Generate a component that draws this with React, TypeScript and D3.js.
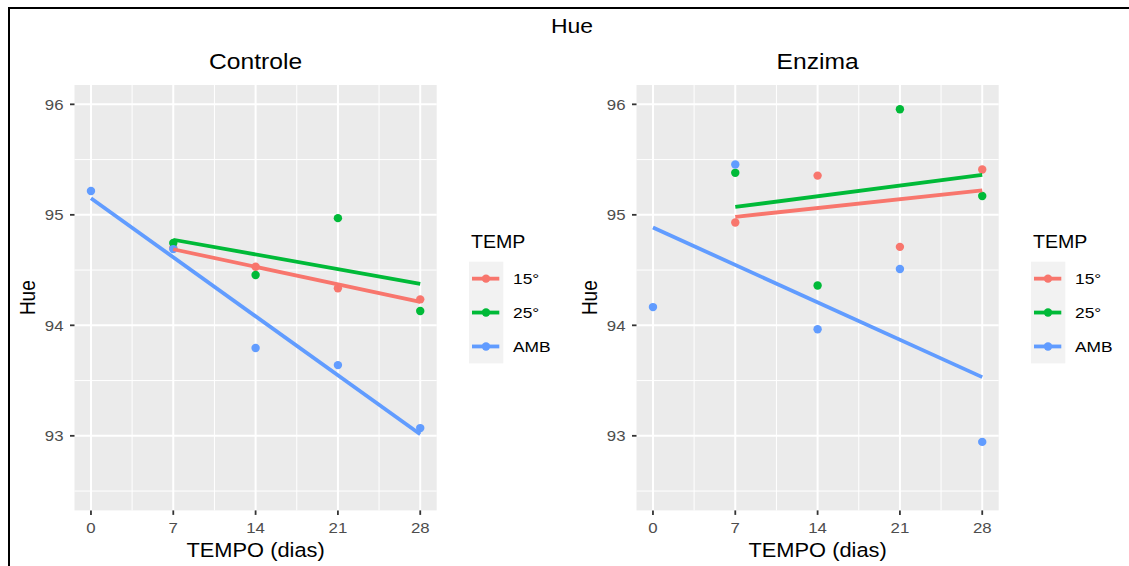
import React from "react";
import * as d3 from "d3";

// ---- data ----
const days = [0, 7, 14, 21, 28];
const groups = ["15°", "25°", "AMB"];
const groupColors = ["#F8766D", "#00BA38", "#619CFF"];
const yTicks = [93, 94, 95, 96];
const yMinor = [92.5, 93.5, 94.5, 95.5];
const xTicks = [0, 7, 14, 21, 28];
const xMinor = [3.5, 10.5, 17.5, 24.5];

const ctrl15 = [null, 94.7, 94.53, 94.335, 94.235];
const ctrl25 = [null, 94.745, 94.455, 94.97, 94.13];
const ctrlAMB = [95.215, 94.69, 93.795, 93.64, 93.07];

const enz15 = [null, 94.93, 95.355, 94.71, 95.41];
const enz25 = [null, 95.38, 94.36, 95.955, 95.17];
const enzAMB = [94.165, 95.455, 93.965, 94.51, 92.945];

const panels = [
  { title: "Controle", series: [ctrl15, ctrl25, ctrlAMB] },
  { title: "Enzima", series: [enz15, enz25, enzAMB] },
];

const FONT = "'Liberation Sans', Arial, Helvetica, sans-serif";
const SX = 1.12;

function T({ x, y, size, anchor = "start", fill = "#000", rotate = false, children }: any) {
  const tr = rotate
    ? `translate(${x},${y}) scale(${SX},1) rotate(-90)`
    : `translate(${x},${y}) scale(${SX},1)`;
  return (
    <text transform={tr} fontSize={size} fontFamily={FONT} textAnchor={anchor} fill={fill}>
      {children}
    </text>
  );
}

function linreg(xs: number[], ys: number[]) {
  const mx = d3.mean(xs)!;
  const my = d3.mean(ys)!;
  let num = 0;
  let den = 0;
  xs.forEach((x, i) => {
    num += (x - mx) * (ys[i] - my);
    den += (x - mx) * (x - mx);
  });
  const b = num / den;
  const a = my - b * mx;
  return (x: number) => a + b * x;
}

const yScale = d3.scaleLinear().domain([92.325, 96.175]).range([510.4, 85]);

function Panel({ left, title, series }: any) {
  const width = 362.2;
  const x = d3.scaleLinear().domain([-1.4, 29.4]).range([left, left + width]);
  const [yTop, yBot] = [yScale.range()[1], yScale.range()[0]];
  const line = d3
    .line<[number, number]>()
    .x((d) => x(d[0]))
    .y((d) => yScale(d[1]));
  const legX = left + 394.5;
  const keyTop = 261.7;
  const keyH = 33.9;
  return (
    <g>
      <rect x={left} y={yTop} width={width} height={yBot - yTop} fill="#EBEBEB" />
      {yMinor.map((v) => (
        <line key={"ym" + v} x1={left} x2={left + width} y1={yScale(v)} y2={yScale(v)} stroke="#fff" strokeWidth={1} />
      ))}
      {xMinor.map((v) => (
        <line key={"xm" + v} y1={yTop} y2={yBot} x1={x(v)} x2={x(v)} stroke="#fff" strokeWidth={1} />
      ))}
      {yTicks.map((v) => (
        <line key={"yM" + v} x1={left} x2={left + width} y1={yScale(v)} y2={yScale(v)} stroke="#fff" strokeWidth={2} />
      ))}
      {xTicks.map((v) => (
        <line key={"xM" + v} y1={yTop} y2={yBot} x1={x(v)} x2={x(v)} stroke="#fff" strokeWidth={2} />
      ))}
      {/* points */}
      {series.map((s: (number | null)[], gi: number) =>
        s.map((v, i) =>
          v == null ? null : (
            <circle key={gi + "-" + i} cx={x(days[i])} cy={yScale(v)} r={4.2} fill={groupColors[gi]} />
          )
        )
      )}
      {/* regression lines */}
      {series.map((s: (number | null)[], gi: number) => {
        const xs: number[] = [];
        const ys: number[] = [];
        s.forEach((v, i) => {
          if (v != null) {
            xs.push(days[i]);
            ys.push(v);
          }
        });
        const f = linreg(xs, ys);
        const x0 = d3.min(xs)!;
        const x1 = d3.max(xs)!;
        return (
          <path
            key={"l" + gi}
            d={line([[x0, f(x0)], [x1, f(x1)]])!}
            stroke={groupColors[gi]}
            strokeWidth={3.8}
            fill="none"
          />
        );
      })}
      {/* axes */}
      {yTicks.map((v) => (
        <g key={"yt" + v}>
          <line x1={left - 4.5} x2={left} y1={yScale(v)} y2={yScale(v)} stroke="#333" strokeWidth={1.8} />
          <T x={left - 11} y={yScale(v) + 5.3} size={15} anchor="end" fill="#4D4D4D">
            {v}
          </T>
        </g>
      ))}
      {xTicks.map((v) => (
        <g key={"xt" + v}>
          <line x1={x(v)} x2={x(v)} y1={yBot} y2={yBot + 4.5} stroke="#333" strokeWidth={1.8} />
          <T x={x(v)} y={532.5} size={15} anchor="middle" fill="#4D4D4D">
            {v}
          </T>
        </g>
      ))}
      <T x={left + width / 2} y={556.5} size={19.5} anchor="middle">
        TEMPO (dias)
      </T>
      <T x={left - 40} y={(yTop + yBot) / 2} size={19} anchor="middle" rotate>
        Hue
      </T>
      <T x={left + width / 2} y={69} size={22} anchor="middle">
        {title}
      </T>
      {/* legend */}
      <T x={legX + 2} y={248} size={17.5}>
        TEMP
      </T>
      <rect x={legX} y={keyTop} width={34.3} height={keyH * 3} fill="#F2F2F2" />
      {groups.map((g, gi) => {
        const cy = keyTop + keyH * (gi + 0.5);
        return (
          <g key={"lg" + g}>
            <line x1={legX + 3} x2={legX + 30.3} y1={cy} y2={cy} stroke={groupColors[gi]} strokeWidth={3.8} />
            <circle cx={legX + 17} cy={cy} r={4.2} fill={groupColors[gi]} />
            <T x={legX + 44} y={cy + 5.6} size={15.5}>
              {g}
            </T>
          </g>
        );
      })}
    </g>
  );
}

export default function App() {
  return (
    <svg
      width={1129}
      height={566}
      style={{ position: "absolute", left: 0, top: 0, background: "#fff" }}
    >
      <rect x={0} y={0} width={1129} height={566} fill="#fff" />
      <path d="M9,566 V8 H1129" stroke="#000" strokeWidth={2} fill="none" />
      <T x={572} y={33} size={20.5} anchor="middle">
        Hue
      </T>
      {panels.map((p, i) => (
        <Panel key={p.title} left={i === 0 ? 74.5 : 636.5} title={p.title} series={p.series} />
      ))}
    </svg>
  );
}
